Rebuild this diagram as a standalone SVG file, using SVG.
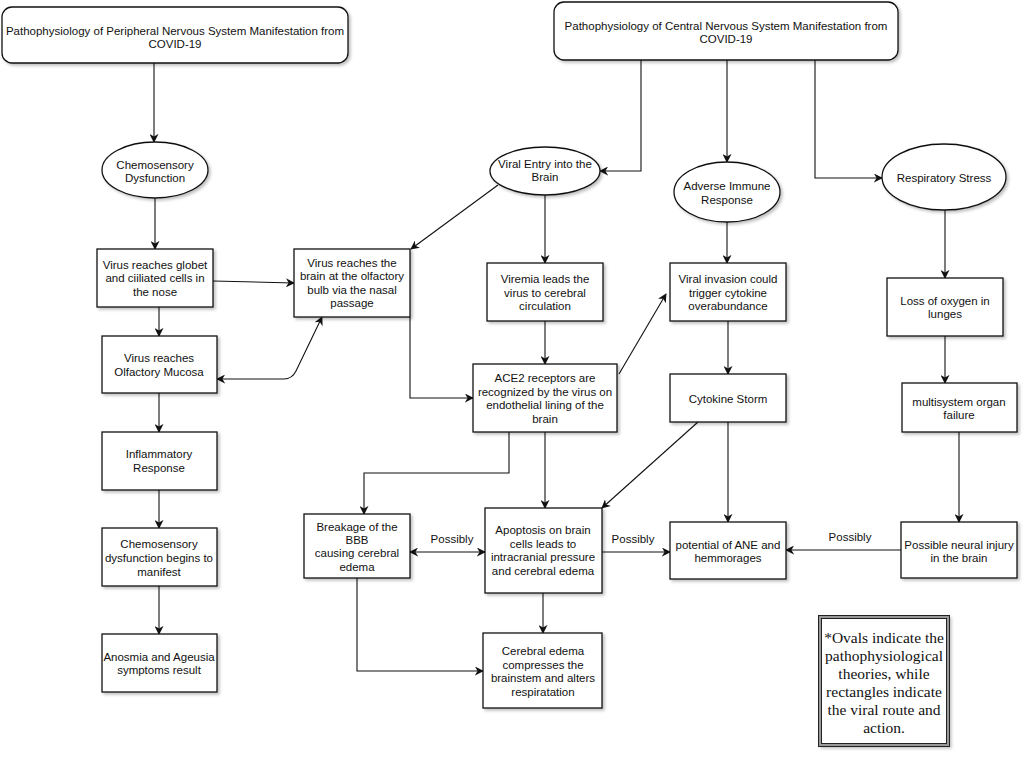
<svg xmlns="http://www.w3.org/2000/svg" width="1029" height="758" viewBox="0 0 1029 758">
<defs>
<filter id="sh" x="-10%" y="-10%" width="130%" height="130%">
<feDropShadow dx="2" dy="2" stdDeviation="1.5" flood-color="#000" flood-opacity="0.25"/>
</filter>
<marker id="ah" viewBox="0 0 10 10" refX="9" refY="5" markerWidth="9" markerHeight="9" markerUnits="userSpaceOnUse" orient="auto-start-reverse">
<path d="M0,0 L10,5 L0,10 L3,5 z" fill="#111"/>
</marker>
<style>
.n rect, .n ellipse { fill:#fff; stroke:#111; stroke-width:1.3; filter:url(#sh); }
.t { font-family:"Liberation Sans", Arial, sans-serif; font-size:11.5px; fill:#111; text-anchor:middle; }
.c path { fill:none; stroke:#111; stroke-width:1.1; marker-end:url(#ah); }
.c path.bi { marker-start:url(#ah); }
.lg { font-family:"Liberation Serif", "Times New Roman", serif; font-size:15.5px; fill:#111; text-anchor:middle; }
</style>
</defs>
<rect width="1029" height="758" fill="#fff"/>

<g id="connectors" class="c">
<path d="M154,63 V142"/>
<path d="M155,198 V249"/>
<path d="M213,281 L294,283"/>
<path d="M159,307 V336"/>
<path class="bi" d="M217,379 H284 Q292,379 296,371 L322,317"/>
<path d="M159,393 V432"/>
<path d="M159,490 V528"/>
<path d="M159,586 V634"/>
<path d="M641,60 V171 H600"/>
<path d="M727,60 V162"/>
<path d="M815,60 V178 H882"/>
<path d="M498,185 L411,249"/>
<path d="M545,195 V263"/>
<path d="M410,317 V398 H473"/>
<path d="M545,321 V364"/>
<path d="M619,374 L666,294"/>
<path d="M727,222 V263"/>
<path d="M728,321 V374"/>
<path d="M945,210 V278"/>
<path d="M945,336 V383"/>
<path d="M959,432 V522"/>
<path d="M509,432 V473 H364 V514"/>
<path d="M545,432 V508"/>
<path d="M698,422 L602,508"/>
<path d="M728,422 V522"/>
<path class="bi" d="M410,552 H485"/>
<path d="M602,552 H670"/>
<path d="M901,550 H786"/>
<path d="M543,593 V633"/>
<path d="M357,578 V671 H483"/>
<text class="t" x="452" y="543">Possibly</text>
<text class="t" x="633" y="543">Possibly</text>
<text class="t" x="850" y="541">Possibly</text>
</g>

<g id="pns-title" class="n">
<rect x="2" y="7" width="346" height="56" rx="10"/>
<text class="t" x="175" y="35">Pathophysiology of Peripheral Nervous System Manifestation from</text>
<text class="t" x="175" y="48">COVID-19</text>
</g>
<g id="cns-title" class="n">
<rect x="554" y="2" width="344" height="58" rx="10"/>
<text class="t" x="726" y="30">Pathophysiology of Central Nervous System Manifestation from</text>
<text class="t" x="726" y="43">COVID-19</text>
</g>

<g id="chemo-ellipse" class="n">
<ellipse cx="155" cy="170" rx="53" ry="28"/>
<text class="t" x="155" y="169">Chemosensory</text>
<text class="t" x="155" y="182">Dysfunction</text>
</g>
<g id="globet" class="n">
<rect x="97" y="249" width="116" height="58"/>
<text class="t" x="155" y="269">Virus reaches globet</text>
<text class="t" x="155" y="282">and ciiliated cells in</text>
<text class="t" x="155" y="296">the nose</text>
</g>
<g id="olfactory-bulb" class="n">
<rect x="294" y="249" width="116" height="68"/>
<text class="t" x="352" y="267">Virus reaches the</text>
<text class="t" x="352" y="280">brain at the olfactory</text>
<text class="t" x="352" y="294">bulb via the nasal</text>
<text class="t" x="352" y="307">passage</text>
</g>
<g id="mucosa" class="n">
<rect x="102" y="336" width="115" height="57"/>
<text class="t" x="159" y="362">Virus reaches</text>
<text class="t" x="159" y="376">Olfactory Mucosa</text>
</g>
<g id="inflammatory" class="n">
<rect x="102" y="432" width="115" height="58"/>
<text class="t" x="159" y="458">Inflammatory</text>
<text class="t" x="159" y="472">Response</text>
</g>
<g id="chemo-manifest" class="n">
<rect x="102" y="528" width="115" height="58"/>
<text class="t" x="159" y="548">Chemosensory</text>
<text class="t" x="159" y="562">dysfunction begins to</text>
<text class="t" x="159" y="576">manifest</text>
</g>
<g id="anosmia" class="n">
<rect x="102" y="634" width="115" height="58"/>
<text class="t" x="159" y="661">Anosmia and Ageusia</text>
<text class="t" x="159" y="674">symptoms result</text>
</g>

<g id="viral-entry" class="n">
<ellipse cx="545" cy="171" rx="55" ry="24"/>
<text class="t" x="545" y="168">Viral Entry into the</text>
<text class="t" x="545" y="181">Brain</text>
</g>
<g id="adverse" class="n">
<ellipse cx="727" cy="192" rx="53" ry="30"/>
<text class="t" x="727" y="190">Adverse Immune</text>
<text class="t" x="727" y="204">Response</text>
</g>
<g id="respiratory" class="n">
<ellipse cx="944" cy="177" rx="62" ry="33"/>
<text class="t" x="944" y="182">Respiratory Stress</text>
</g>

<g id="viremia" class="n">
<rect x="487" y="263" width="116" height="58"/>
<text class="t" x="545" y="283">Viremia leads the</text>
<text class="t" x="545" y="297">virus to cerebral</text>
<text class="t" x="545" y="310">circulation</text>
</g>
<g id="ace2" class="n">
<rect x="473" y="364" width="144" height="68"/>
<text class="t" x="545" y="382">ACE2 receptors are</text>
<text class="t" x="545" y="396">recognized by the virus on</text>
<text class="t" x="545" y="409">endothelial lining of the</text>
<text class="t" x="545" y="423">brain</text>
</g>
<g id="viral-invasion" class="n">
<rect x="670" y="263" width="116" height="58"/>
<text class="t" x="728" y="283">Viral invasion could</text>
<text class="t" x="728" y="297">trigger cytokine</text>
<text class="t" x="728" y="310">overabundance</text>
</g>
<g id="cytokine-storm" class="n">
<rect x="670" y="374" width="116" height="48"/>
<text class="t" x="728" y="403">Cytokine Storm</text>
</g>
<g id="loss-oxygen" class="n">
<rect x="887" y="278" width="116" height="58"/>
<text class="t" x="945" y="305">Loss of oxygen in</text>
<text class="t" x="945" y="318">lunges</text>
</g>
<g id="multisystem" class="n">
<rect x="902" y="383" width="115" height="49"/>
<text class="t" x="959" y="406">multisystem organ</text>
<text class="t" x="959" y="419">failure</text>
</g>
<g id="breakage" class="n">
<rect x="304" y="514" width="106" height="64"/>
<text class="t" x="357" y="531">Breakage of the</text>
<text class="t" x="357" y="544">BBB</text>
<text class="t" x="357" y="557">causing cerebral</text>
<text class="t" x="357" y="571">edema</text>
</g>
<g id="apoptosis" class="n">
<rect x="485" y="508" width="117" height="85"/>
<text class="t" x="543" y="534">Apoptosis on brain</text>
<text class="t" x="543" y="548">cells leads to</text>
<text class="t" x="543" y="561">intracranial pressure</text>
<text class="t" x="543" y="575">and cerebral edema</text>
</g>
<g id="potential" class="n">
<rect x="670" y="522" width="116" height="57"/>
<text class="t" x="728" y="549">potential of ANE and</text>
<text class="t" x="728" y="562">hemmorages</text>
</g>
<g id="neural-injury" class="n">
<rect x="901" y="522" width="116" height="56"/>
<text class="t" x="959" y="549">Possible neural injury</text>
<text class="t" x="959" y="562">in the brain</text>
</g>
<g id="cerebral-edema" class="n">
<rect x="483" y="633" width="119" height="75"/>
<text class="t" x="543" y="655">Cerebral edema</text>
<text class="t" x="543" y="669">compresses the</text>
<text class="t" x="543" y="682">brainstem and alters</text>
<text class="t" x="543" y="696">respiratation</text>
</g>

<g id="legend">
<rect x="820" y="617" width="128" height="128" fill="#fff" stroke="#999" stroke-width="3" filter="url(#sh)"/>
<rect x="818.5" y="615.5" width="131" height="131" fill="none" stroke="#222" stroke-width="1"/>
<rect x="821.5" y="618.5" width="125" height="125" fill="none" stroke="#222" stroke-width="1"/>
<text class="lg" x="884" y="643">*Ovals indicate the</text>
<text class="lg" x="884" y="661">pathophysiological</text>
<text class="lg" x="884" y="679">theories, while</text>
<text class="lg" x="884" y="697">rectangles indicate</text>
<text class="lg" x="884" y="715">the viral route and</text>
<text class="lg" x="884" y="733">action.</text>
</g>
</svg>
